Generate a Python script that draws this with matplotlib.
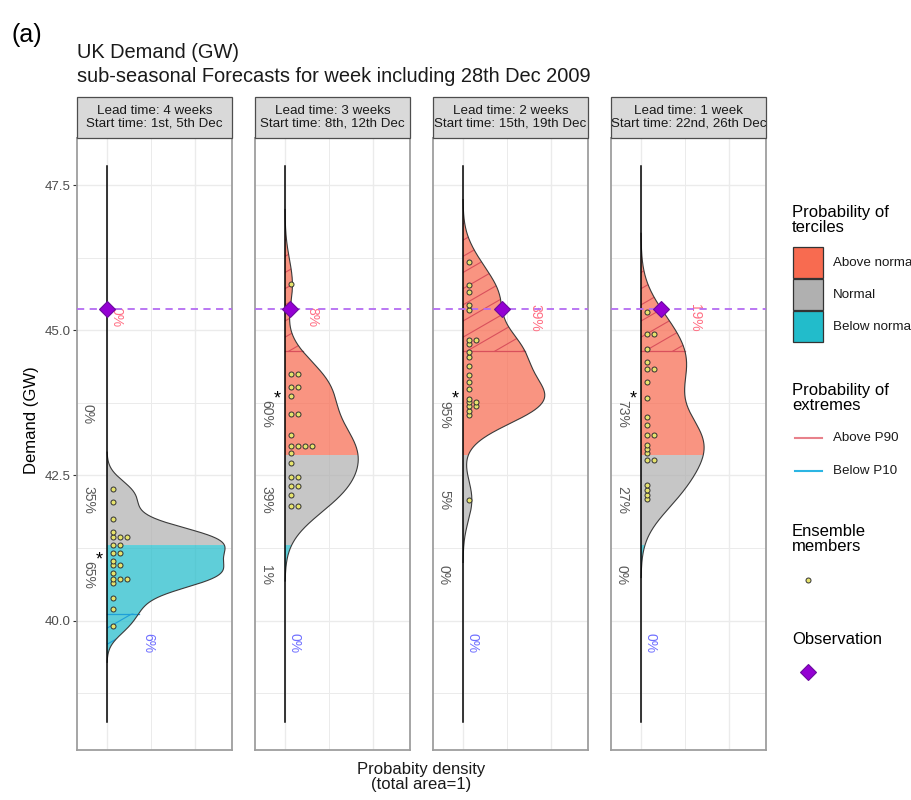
import numpy as np
import matplotlib
matplotlib.use("Agg")
import matplotlib.pyplot as plt
from matplotlib import mlab
from matplotlib.patches import Rectangle, Polygon
from matplotlib.collections import LineCollection
from matplotlib.transforms import IdentityTransform

plt.rcParams['font.family'] = ['Liberation Sans', 'DejaVu Sans']

# ---------------- data ----------------
panel_titles = [
    "Lead time: 4 weeks\nStart time: 1st, 5th Dec",
    "Lead time: 3 weeks\nStart time: 8th, 12th Dec",
    "Lead time: 2 weeks\nStart time: 15th, 19th Dec",
    "Lead time: 1 week\nStart time: 22nd, 26th Dec",
]

# ensemble members (GW), two start dates x 11 members
members_4wk = [42.27, 42.04, 41.75, 41.52, 41.44, 41.44, 41.44, 41.30, 41.30,
               41.16, 41.16, 41.02, 40.95, 40.95, 40.81, 40.72, 40.72, 40.72,
               40.64, 40.39, 40.19, 39.91]
members_3wk = [45.79, 44.25, 44.25, 44.03, 44.03, 43.86, 43.56, 43.56, 43.19,
               43.01, 43.01, 43.01, 43.01, 42.88, 42.71, 42.48, 42.48, 42.31,
               42.31, 42.16, 41.97, 41.97]
members_2wk = [46.17, 45.78, 45.66, 45.43, 45.35, 44.83, 44.83, 44.76, 44.62,
               44.53, 44.39, 44.23, 44.10, 43.99, 43.82, 43.78, 43.76, 43.72,
               43.68, 43.60, 43.54, 42.08]
members_1wk = [45.32, 44.94, 44.94, 44.67, 44.46, 44.36, 44.32, 44.10, 43.83,
               43.51, 43.36, 43.20, 43.20, 43.03, 42.96, 42.89, 42.76, 42.76,
               42.33, 42.25, 42.16, 42.09]
kde_bandwidth = [0.21, 0.43, 0.36, 0.45]   # GW

tercile_low, tercile_high = 41.30, 42.85
p10, p90 = 40.12, 44.64
observed = 45.37
clim_range = (38.25, 47.83)

prob_above = ["0%", "60%", "95%", "73%"]
prob_normal = ["35%", "39%", "5%", "27%"]
prob_below = ["65%", "1%", "0%", "0%"]
prob_p90 = ["0%", "8%", "39%", "19%"]
prob_p10 = ["6%", "0%", "0%", "0%"]

y_ticks = [40.0, 42.5, 45.0, 47.5]

# ---------------- styling ----------------
col_above = "#F86B50"
col_normal = "#B0B0B0"
col_below = "#22BCCB"
fill_alpha = 0.72
col_p90 = "#D9505C"
col_p10 = "#1E9FD8"
col_obs = "#9400D3"
col_obs_line = "#B46CF2"
col_member = "#E6E36C"
col_grid = "#EBEBEB"

W, H = 912, 800
panel_left = [77, 255, 433, 611]
panel_w = 155
panel_top, panel_bot = 138, 750
strip_top = 97
PX = 0.72  # points per pixel at 100 dpi


def fig_rect(x0, y0, x1, y1):
    return [x0 / W, 1 - y1 / H, (x1 - x0) / W, (y1 - y0) / H]


def kde_curve(values, bw):
    v = np.asarray(values, dtype=float)
    kde = mlab.GaussianKDE(v, bw_method=bw / v.std(ddof=1))
    y = np.linspace(v.min() - 3 * bw, v.max() + 3 * bw, 512)
    cuts = [c for c in (p10, tercile_low, tercile_high, p90) if y[0] < c < y[-1]]
    y = np.sort(np.concatenate([y, cuts]))
    return kde, y, kde.evaluate(y)


def stack_dots(values, binwidth=0.05):
    v = np.sort(np.asarray(values, dtype=float))
    ys, ks = [], []
    i = 0
    while i < len(v):
        j = i
        while j + 1 < len(v) and v[j + 1] < v[i] + binwidth:
            j += 1
        centre = 0.5 * (v[i] + v[j])
        for k in range(j - i + 1):
            ys.append(centre)
            ks.append(k)
        i = j + 1
    return np.array(ys), np.array(ks)


def add_stripes(ax, left_px, y, d, mask, color, spacing=14.0, angle=30.0):
    """Striped pattern (in pixel space) clipped to the density area under mask."""
    if mask.sum() < 2 or d[mask].max() * px_per_unit < 0.5:
        return
    ym, dm = y[mask], d[mask]
    verts = np.column_stack([np.r_[dm, 0.0, 0.0], np.r_[ym, ym[-1], ym[0]]])
    clip = Polygon(verts, closed=True, transform=ax.transData)
    x0, x1 = left_px, left_px + panel_w
    y0, y1 = H - panel_bot, H - panel_top
    a = np.radians(angle)
    t = np.tan(a)
    offsets = np.arange(y0 - t * x1, y1 - t * x0, spacing / np.cos(a))
    segs = [[(x0, t * x0 + c), (x1, t * x1 + c)] for c in offsets]
    lc = LineCollection(segs, colors=color, linewidths=0.8,
                        transform=IdentityTransform(), zorder=2)
    ax.add_collection(lc, autolim=False)
    lc.set_clip_path(clip)


members = [members_4wk, members_3wk, members_2wk, members_1wk]
curves = [kde_curve(m, bw) for m, bw in zip(members, kde_bandwidth)]
dmax = max(c[2].max() for c in curves)
xlim = (-0.254 * dmax, 1.059 * dmax)
ylim = (37.77, 48.31)
px_per_unit = panel_w / (xlim[1] - xlim[0])

fig = plt.figure(figsize=(W / 100, H / 100), dpi=100)
overlay = fig.add_axes([0, 0, 1, 1], zorder=10)
overlay.set_xlim(0, W)
overlay.set_ylim(H, 0)
overlay.axis("off")
overlay.patch.set_visible(False)

lab_kw = dict(textcoords="offset points", rotation=-90, ha="center",
              va="center", fontsize=10)

for i, (kde, y, d) in enumerate(curves):
    left = panel_left[i]
    ax = fig.add_axes(fig_rect(left, panel_top, left + panel_w, panel_bot))
    ax.set_xlim(*xlim)
    ax.set_ylim(*ylim)
    for s in ax.spines.values():
        s.set_color("#9E9E9E")
        s.set_linewidth(1.3)
    ax.set_xticks([])
    if i == 0:
        ax.set_yticks(y_ticks)
        ax.set_yticklabels([f"{t:.1f}" for t in y_ticks])
        ax.tick_params(axis="y", length=2.7, width=0.8, color="#333333",
                       labelcolor="#4D4D4D", labelsize=9.6, pad=2)
    else:
        ax.set_yticks([])

    # grid
    for gy in np.arange(38.75, 48.3, 1.25):
        ax.axhline(gy, color=col_grid, lw=1.0 if gy % 2.5 == 0 else 0.7, zorder=0)
    for gx in np.arange(0.25, xlim[1], 0.25):
        ax.axvline(gx, color=col_grid, lw=1.0 if gx % 0.5 == 0 else 0.7, zorder=0)
    ax.axvline(0, color=col_grid, lw=1.0, zorder=0)

    # tercile-coloured density
    ax.fill_betweenx(y, 0, d, where=y >= tercile_high, facecolor=col_above,
                     alpha=fill_alpha, lw=0, zorder=1)
    ax.fill_betweenx(y, 0, d, where=(y >= tercile_low) & (y <= tercile_high),
                     facecolor=col_normal, alpha=fill_alpha, lw=0, zorder=1)
    ax.fill_betweenx(y, 0, d, where=y <= tercile_low, facecolor=col_below,
                     alpha=fill_alpha, lw=0, zorder=1)
    # extremes
    add_stripes(ax, left, y, d, y >= p90, col_p90)
    add_stripes(ax, left, y, d, y <= p10, col_p10)
    d90 = kde.evaluate([p90])[0] if y[0] < p90 < y[-1] else 0.0
    d10 = kde.evaluate([p10])[0] if y[0] < p10 < y[-1] else 0.0
    ax.plot([0, d90], [p90, p90], color=col_p90, lw=0.9, zorder=2)
    ax.plot([0, d10], [p10, p10], color=col_p10, lw=0.9, zorder=2)
    ax.plot(d, y, color="#3A3A3A", lw=0.8, zorder=3)
    ax.plot([0, 0], clim_range, color="black", lw=1.1, zorder=3)

    # observation
    ax.axhline(observed, color=col_obs_line, lw=1.3, ls=(0, (4, 3)), zorder=4)
    d_obs = kde.evaluate([observed])[0]
    d_obs = d_obs if d_obs * px_per_unit > 0.5 else 0.0
    ax.plot([d_obs], [observed], marker="D", ms=8.5, mfc=col_obs,
            mec="#6B0A9E", mew=0.8, zorder=7)

    # ensemble members
    ys, ks = stack_dots(members[i])
    xs = (6.5 + 6.7 * ks) / px_per_unit
    ax.scatter(xs, ys, s=13, facecolor=col_member, edgecolor="#333333",
               linewidths=0.7, zorder=6)

    # tercile probabilities
    probs = [prob_above[i], prob_normal[i], prob_below[i]]
    label_y = [43.55, 42.07, 40.79]
    for txt, ly in zip(probs, label_y):
        ax.annotate(txt, xy=(0, ly), xytext=(-19 * PX, 0), color="#5A5A5A",
                    **lab_kw)
    best = int(np.argmax([float(p.rstrip("%")) for p in probs]))
    ax.annotate("*", xy=(0, label_y[best]), xytext=(-8 * PX, 15 * PX),
                textcoords="offset points", ha="center", va="center",
                fontsize=13, color="black")

    # extreme probabilities
    above90 = d[y >= p90]
    below10 = d[y <= p10]
    x90 = above90.max() if above90.size else 0.0
    x10 = below10.max() if below10.size else 0.0
    x90 = x90 if x90 * px_per_unit > 0.5 else 0.0
    x10 = x10 if x10 * px_per_unit > 0.5 else 0.0
    ax.annotate(prob_p90[i], xy=(x90, 45.22), xytext=(10 * PX, 0),
                color="#FF6F84", **lab_kw)
    ax.annotate(prob_p10[i], xy=(x10, 39.62), xytext=(10 * PX, 0),
                color="#6F6FFF", **lab_kw)

    # facet strip
    overlay.add_patch(Rectangle((left, strip_top), panel_w, panel_top - strip_top,
                                facecolor="#D9D9D9", edgecolor="#4D4D4D", lw=0.9))
    overlay.text(left + panel_w / 2, (strip_top + panel_top) / 2, panel_titles[i],
                 ha="center", va="center", fontsize=9.6, color="#1A1A1A",
                 linespacing=1.0)

# titles
overlay.text(12, 35, "(a)", fontsize=18, ha="left", va="center")
overlay.text(77, 52, "UK Demand (GW)", fontsize=14.4, ha="left", va="center",
             color="#1A1A1A")
overlay.text(77, 76, "sub-seasonal Forecasts for week including 28th Dec 2009",
             fontsize=14.4, ha="left", va="center", color="#1A1A1A")
overlay.text(32, 420, "Demand (GW)", rotation=90, fontsize=12, ha="center",
             va="center")
overlay.text(421, 777, "Probabity density\n(total area=1)", fontsize=12,
             ha="center", va="center", linespacing=1.0, color="#1A1A1A")

# legend
lx = 792
overlay.text(lx, 220, "Probability of\nterciles", fontsize=12, ha="left",
             va="center", linespacing=1.0)
for (label, col), top in zip([("Above normal", col_above), ("Normal", col_normal),
                              ("Below normal", col_below)], [247, 279, 311]):
    overlay.add_patch(Rectangle((lx + 1, top), 30, 31, facecolor=col,
                                edgecolor="#333333", lw=0.9))
    overlay.text(lx + 41, top + 15.5, label, fontsize=9.6, ha="left", va="center",
                 color="#1A1A1A")

overlay.text(lx, 398, "Probability of\nextremes", fontsize=12, ha="left",
             va="center", linespacing=1.0)
for (label, col), yy in zip([("Above P90", "#E8818B"), ("Below P10", "#2BB5E3")],
                            [438, 471]):
    overlay.plot([lx + 3, lx + 30], [yy, yy], color=col, lw=1.5)
    overlay.text(lx + 41, yy, label, fontsize=9.6, ha="left", va="center",
                 color="#1A1A1A")

overlay.text(lx, 539, "Ensemble\nmembers", fontsize=12, ha="left", va="center",
             linespacing=1.0)
overlay.scatter([lx + 16], [580], s=13, facecolor=col_member,
                edgecolor="#333333", linewidths=0.7)
overlay.text(lx, 640, "Observation", fontsize=12, ha="left", va="center")
overlay.plot([lx + 16], [672], marker="D", ms=8.5, mfc=col_obs, mec="#6B0A9E",
             mew=0.8)

fig.savefig("out.png", dpi=100)
